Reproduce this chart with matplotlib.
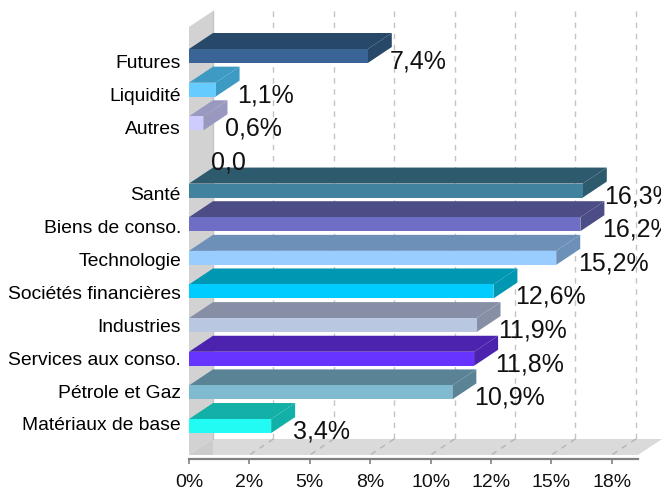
import matplotlib
matplotlib.use("Agg")
import matplotlib.pyplot as plt
from matplotlib.transforms import Bbox

plt.rcParams['font.family'] = ['Liberation Sans', 'DejaVu Sans']

categories = ["Futures", "Liquidité", "Autres", "", "Santé", "Biens de conso.", "Technologie",
              "Sociétés financières", "Industries", "Services aux conso.", "Pétrole et Gaz",
              "Matériaux de base"]
values = [7.4, 1.1, 0.6, 0.0, 16.3, 16.2, 15.2, 12.6, 11.9, 11.8, 10.9, 3.4]
value_labels = ["7,4%", "1,1%", "0,6%", "0,0", "16,3%", "16,2%", "15,2%", "12,6%", "11,9%",
                "11,8%", "10,9%", "3,4%"]
front_colors = ["#3a6496", "#66ccff", "#ccccff", "#ffffff", "#41829f", "#6e6ec6", "#99ccff",
                "#00ccff", "#b9c8e0", "#6633ff", "#7fbad0", "#22fbf3"]
top_colors = ["#284869", "#3d9ac2", "#9999c0", "#ffffff", "#2e5a6e", "#4c4c86", "#6c90b8",
              "#0097b3", "#868fa6", "#4b23ae", "#5a8496", "#12b0a6"]
tick_values = [0, 2.5, 5, 7.5, 10, 12.5, 15, 17.5]
tick_labels = ["0%", "2%", "5%", "8%", "10%", "12%", "15%", "18%"]

W, H = 664, 488
fig = plt.figure(figsize=(W / 100, H / 100), dpi=100)
L, R, T, B = 189, 638, 27, 459
ax = fig.add_axes([L / W, (H - B) / H, (R - L) / W, (B - T) / H])
px_x = 60.4 / 2.5
px_y = 33.64
ax.set_xlim(0, (R - L) / px_x)
ax.set_ylim((B - 56) / px_y, (T - 56) / px_y)

dx = 24 / px_x      # depth offset, x units
dy = -16 / px_y     # depth offset, y units
hh = 7 / px_y       # half bar height
floor_y = (455 - 56) / px_y
top_y = -0.862
xmax = (R - L) / px_x

# walls and floor
ax.fill([0, dx, dx, 0], [top_y, top_y + dy, floor_y + dy, floor_y], color="#d2d2d2", lw=0, clip_on=False, zorder=1)
ax.plot([dx, dx], [top_y + dy, floor_y + dy], color="#c4c4c4", lw=1, clip_on=False, zorder=1.1)
ax.fill([0, dx, xmax + dx, xmax], [floor_y, floor_y + dy, floor_y + dy, floor_y], color="#dadada", lw=0, clip_on=False, zorder=1)
ax.fill([0, dx, dx, 0], [floor_y, floor_y + dy, floor_y, floor_y], color="#cccccc", lw=0, clip_on=False, zorder=1.05)

# gridlines: back wall, then across the floor
for t in tick_values[1:]:
    ax.plot([t + dx, t + dx], [top_y + dy, floor_y + dy], color="#c4c4c4", lw=1,
            ls=(0, (4, 4)), clip_on=False, zorder=1.5)
    ax.plot([t + dx, t], [floor_y + dy, floor_y], color="#b4b4b4", lw=1,
            ls=(0, (4, 4)), clip_on=False, zorder=1.5)

# bars
for i, (v, fc, tc) in enumerate(zip(values, front_colors, top_colors)):
    if v > 0:
        y0, y1 = i - hh, i + hh
        ax.fill([0, dx, v + dx, v], [y0, y0 + dy, y0 + dy, y0], color=tc, lw=0, clip_on=False, zorder=3)
        ax.fill([v, v + dx, v + dx, v], [y0, y0 + dy, y1 + dy, y1], color=tc, lw=0, clip_on=False, zorder=3)
        ax.barh(i, v, height=2 * hh, color=fc, lw=0, zorder=4)
    t = ax.annotate(value_labels[i], (v, i), xytext=(21.5 * 0.72, -5.5 * 0.72), textcoords="offset points",
                    ha="left", va="center", fontsize=18, color="#111111", zorder=6, annotation_clip=False)
    t.set_clip_on(True)
    t.set_clip_box(Bbox([[0, 0], [661, H]]))

# axes
ax.patch.set_visible(False)
for s in ("top", "right", "left"):
    ax.spines[s].set_visible(False)
ax.spines["bottom"].set_color("#808080")
ax.spines["bottom"].set_linewidth(1.6)
ax.set_xticks(tick_values, tick_labels)
ax.tick_params(axis="x", length=3.6, width=1.2, color="#808080", pad=7, labelsize=14, labelcolor="#111111")
# the category labels sit on a slightly tighter pitch than the bars
ax.set_yticks([(62 + 32.9 * i - 56) / px_y for i in range(len(categories))], categories)
ax.tick_params(axis="y", length=0, pad=5.8, labelsize=13.9, labelcolor="#000000")

fig.savefig("out.png", dpi=100)
